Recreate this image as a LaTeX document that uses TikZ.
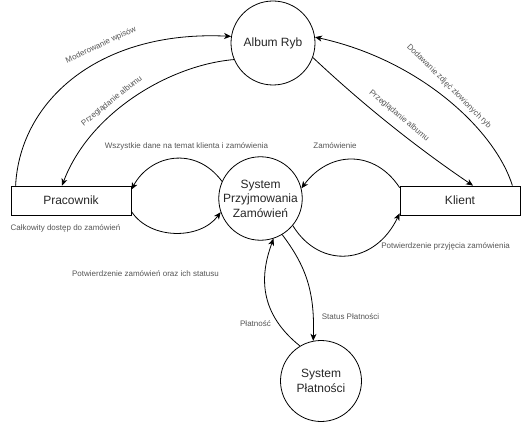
\documentclass[tikz,border=0pt]{standalone}
\usepackage{fontspec}
\setmainfont{Liberation Sans}
\usetikzlibrary{arrows.meta}
\definecolor{labelgray}{RGB}{85,85,85}

\begin{document}
\begin{tikzpicture}[x=1pt,y=-1pt,
    flow/.style={draw=black,line width=0.8pt,-{Stealth[length=7pt,width=6pt,inset=2pt]}}]
    \useasboundingbox (0,0) rectangle (521,422);
    \begin{scope}[every node/.style={circle,draw,line width=0.8pt,inner sep=0pt,align=center,text=black!85,font=\fontsize{12}{14.5}\selectfont}]
    \node[minimum size=84pt] (album) at (273,43) {Album Ryb};
    \node[minimum size=79pt] (system) at (260.5,198.5) {System\\Przyjmowania\\Zamówień};
    \node[minimum size=81pt] (platnosci) at (321,381) {System\\Płatności};
    \end{scope}
    \begin{scope}[every node/.style={rectangle,draw,line width=0.8pt,minimum width=120pt,minimum height=29pt,text=black!85,font=\fontsize{12}{14.5}\selectfont}]
    \node (pracownik) at (71,200.5) {Pracownik};
    \node (klient) at (460,200.5) {Klient};
    \end{scope}
    \begin{scope}[every node/.style={inner sep=0pt,text=labelgray,font=\fontsize{8}{9.5}\selectfont}]
    \node[rotate=25] (moder) at (101,45) {Moderowanie wpisów};
    \node[rotate=38.5] (przegl1) at (112,101) {Przeglądanie albumu};
    \node (dane) at (186.5,146) {Wszystkie dane na temat klienta i zamówienia};
    \node (zam) at (335,146) {Zamówienie};
    \node[rotate=-40] (przegl2) at (399,116) {Przeglądanie albumu};
    \node[rotate=-45] (dodaw) at (449,86.5) {Dodawanie zdjęć złowionych ryb};
    \node (dostep) at (65.5,228) {Całkowity dostęp do zamówień};
    \node (potwzam) at (145.5,274) {Potwierdzenie zamówień oraz ich statusu};
    \node (potwprz) at (445.5,246) {Potwierdzenie przyjęcia zamówienia};
    \node (platnosc) at (255.5,324) {Płatność};
    \node (status) at (350.5,317) {Status Płatności};
    \end{scope}
    \draw[flow] ([xshift=5pt]pracownik.north west) .. controls (20,100) and (100,30) .. (album.171);
    \draw[flow] (album.203) .. controls (170,65) and (90,112) .. ([xshift=-9pt]pracownik.north);
    \draw[flow] (album.-20) .. controls (362.7,104.4) and (416.2,147.2) .. ([xshift=13pt]klient.north);
    \draw[flow] ([xshift=-8pt]klient.north east) .. controls (495,130) and (420,60) .. (album.8);
    \draw[flow] (system.156) .. controls (195,145) and (150,155) .. ([yshift=-4pt]pracownik.north east);
    \draw[flow] ([yshift=4pt]pracownik.south east) .. controls (150,240) and (200,240) .. (system.199);
    \draw[flow] ([yshift=-2pt]klient.north west) .. controls (375,150) and (330,150) .. (system.14);
    \draw[flow] (system.-40) .. controls (320,270) and (375,265) .. ([yshift=2pt]klient.south west);
    \draw[flow] (platnosci.121) .. controls (255,310) and (262,270) .. (system.-72);
    \draw[flow] (system.-59) .. controls (305,265) and (315,290) .. (platnosci.101);
\end{tikzpicture}
\end{document}
